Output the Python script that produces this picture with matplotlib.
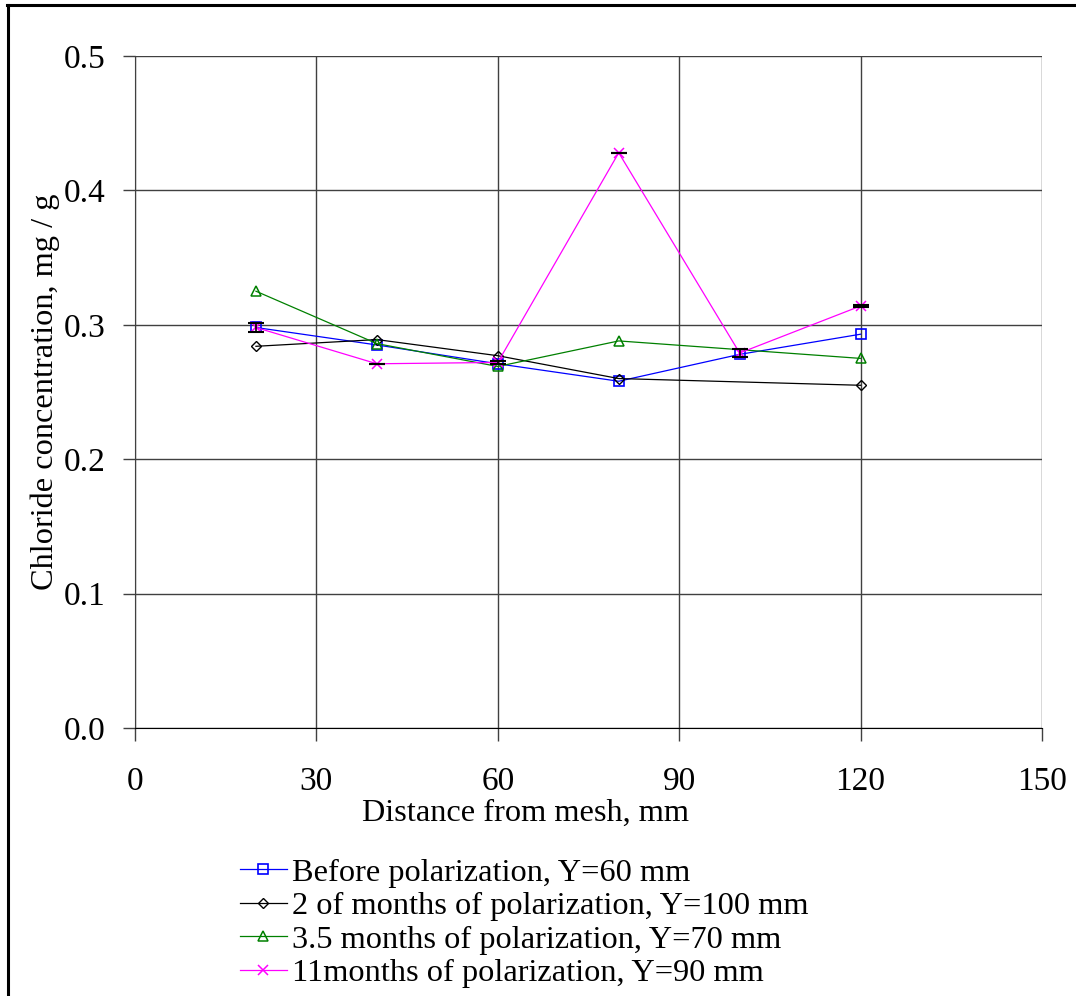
import matplotlib
matplotlib.use("Agg")
import matplotlib.pyplot as plt
from matplotlib.lines import Line2D

plt.rcParams['font.family'] = ['Liberation Serif', 'DejaVu Serif']

# Data
x_before = [20, 40, 60, 80, 100, 120]
y_before = [0.298, 0.285, 0.271, 0.258, 0.278, 0.293]

x_2m = [20, 40, 60, 80, 120]
y_2m = [0.284, 0.289, 0.277, 0.260, 0.255]

x_35m = [20, 40, 60, 80, 120]
y_35m = [0.325, 0.286, 0.269, 0.288, 0.275]

x_11m = [20, 40, 60, 80, 100, 120]
y_11m = [0.298, 0.271, 0.272, 0.428, 0.279, 0.314]
err_11m = [0.003, 0.0, 0.001, 0.0, 0.003, 0.001]

labels = ["Before polarization, Y=60 mm",
          "2 of months of polarization, Y=100 mm",
          "3.5 months of polarization, Y=70 mm",
          "11months of polarization, Y=90 mm"]

xticks = [0, 30, 60, 90, 120, 150]
yticks = [0.0, 0.1, 0.2, 0.3, 0.4, 0.5]

W, H = 1076, 996
fig = plt.figure(figsize=(W / 100, H / 100), dpi=100)
ax = fig.add_axes([135 / W, 1 - 728 / H, (1042 - 135) / W, (728 - 56) / H])

fs = 23.3
lw = 0.9
ms = 7
h1, = ax.plot(x_before, y_before, color='#0000ff', lw=lw, marker='s', ms=ms,
              mfc='none', mec='#0000ff', mew=1.2, zorder=3)
h2, = ax.plot(x_2m, y_2m, color='black', lw=lw, marker='D', ms=5.5,
              mfc='none', mec='black', mew=1.0, zorder=3)
h3, = ax.plot(x_35m, y_35m, color='#008000', lw=lw, marker='^', ms=ms,
              mfc='none', mec='#008000', mew=1.1, zorder=3)
h4, = ax.plot(x_11m, y_11m, color='#ff00ff', lw=lw, marker='x', ms=ms,
              mec='#ff00ff', mew=1.1, zorder=3)
ax.errorbar(x_11m, y_11m, yerr=err_11m, fmt='none', ecolor='black',
            elinewidth=1.2, capsize=6, capthick=1.5, zorder=4)

ax.set_xlim(0, 150)
ax.set_ylim(0, 0.5)
ax.set_xticks(xticks)
ax.set_yticks(yticks)
ax.set_xticklabels([str(v) for v in xticks])
ax.set_yticklabels([f"{v:.1f}" for v in yticks])
ax.tick_params(axis='both', direction='out', length=9, width=1,
               labelsize=24, color='#404040')
ax.tick_params(axis='x', pad=19)
ax.tick_params(axis='y', pad=12)
ax.grid(True, color='#404040', lw=1)
ax.set_axisbelow(True)
for s in ['top', 'right']:
    ax.spines[s].set_visible(False)
ax.spines['left'].set_color('#404040')
ax.spines['bottom'].set_color('black')

ax.set_xlabel("Distance from mesh, mm", fontsize=fs)
ax.xaxis.set_label_coords((525 - 135) / 907, -0.105)
ax.set_ylabel("Chloride concentration, mg / g", fontsize=fs)
ax.yaxis.set_label_coords(-(135 - 60) / 907, 0.5)

fig.legend([h1, h2, h3, h4], labels, loc='upper left',
           bbox_to_anchor=(240 / W, 1 - 858 / H), frameon=False,
           fontsize=fs, handlelength=1.45, handletextpad=0.15,
           labelspacing=0.12, borderpad=0, borderaxespad=0)

# figure border (top and left)
fig.add_artist(Line2D([7 / W, 1.0], [1 - 5.5 / H, 1 - 5.5 / H],
                      transform=fig.transFigure, color='black', lw=2.2))
fig.add_artist(Line2D([7.5 / W, 7.5 / W], [0, 1 - 5 / H],
                      transform=fig.transFigure, color='black', lw=2.2))

fig.savefig("out.png", dpi=100)
